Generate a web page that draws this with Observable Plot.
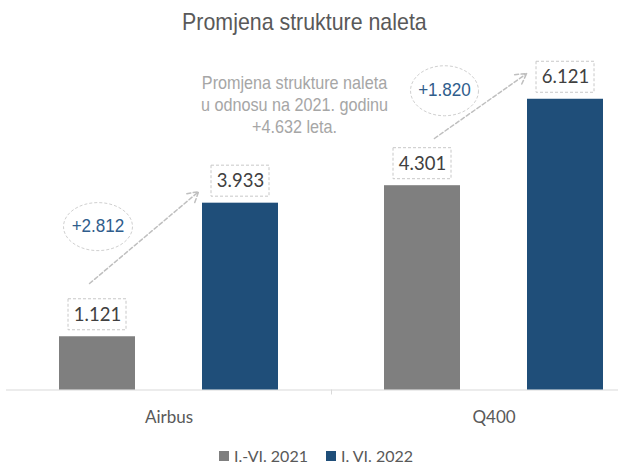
<!DOCTYPE html>
<html><head><meta charset="utf-8">
<script src="https://cdn.jsdelivr.net/npm/d3@7"></script>
<script src="https://cdn.jsdelivr.net/npm/@observablehq/plot@0.6"></script>
<style>
body{margin:0;background:#fff;}
#wrap{width:618px;height:466px;overflow:hidden;position:relative;}
#title{width:618px;height:44px;line-height:44px;text-align:center;font-family:"Liberation Sans",Arial,sans-serif;font-size:24px;color:#595959;padding-right:9px;box-sizing:border-box;}
#title span{display:inline-block;transform:scaleX(0.89);}
#chart{height:392px;}
#chart svg{max-width:none !important;display:block;}
#legend{width:618px;height:30px;display:flex;justify-content:center;align-items:center;font-family:Lato,sans-serif;font-size:16px;line-height:18px;color:#595959;padding-left:14px;padding-top:10px;box-sizing:border-box;}
.item{display:flex;align-items:center;margin:0 9px;}
.sw{width:10px;height:10px;margin-right:5px;}
</style></head>
<body><div id="wrap"><div id="title"><span></span></div><div id="chart"></div><div id="legend"></div></div>
<script>
// ---- data ----
const title = "Promjena strukture naleta";
const aircraft = ["Airbus", "Q400"];
const periods = ["I.-VI. 2021", "I. VI. 2022"];
const flights2021 = [1121, 4301];
const flights2022 = [3933, 6121];
const changeLabels = ["+2.812", "+1.820"];
const noteLines = ["Promjena strukture naleta", "u odnosu na 2021. godinu", "+4.632 leta."];
const colors = ["#7f7f7f", "#1f4e79"];

// ---- annotation placement (in y units / px offsets) ----
const ellipseAt = [{y: 3440, dx: 0.5, rx: 34.5, ry: 24}, {y: 6300, dx: 22, rx: 34, ry: 25}];
const arrowAt = [
  {from: 2383, to: 4918, insetStart: -10.4, insetEnd: 54.7},
  {from: 5118, to: 7238, insetStart: 14.6, insetEnd: 47.6}
];
const noteAt = {y: 6027, dx: 54};

const bars = aircraft.flatMap((a, i) => [
  {aircraft: a, period: periods[0], value: flights2021[i]},
  {aircraft: a, period: periods[1], value: flights2022[i]}
]);
const fmt = d3.formatLocale({decimal: ",", thousands: ".", grouping: [3], currency: ["", ""]}).format(",d");
const arial = "Liberation Sans";

function ellipse(rx, ry) {
  const k = 0.5523;
  return {draw(ctx) {
    ctx.moveTo(rx, 0);
    ctx.bezierCurveTo(rx, ry * k, rx * k, ry, 0, ry);
    ctx.bezierCurveTo(-rx * k, ry, -rx, ry * k, -rx, 0);
    ctx.bezierCurveTo(-rx, -ry * k, -rx * k, -ry, 0, -ry);
    ctx.bezierCurveTo(rx * k, -ry, rx, -ry * k, rx, 0);
    ctx.closePath();
  }};
}

const annMarks = [];
aircraft.forEach((a, i) => {
  const row = [{aircraft: a, label: changeLabels[i], ey: ellipseAt[i].y, from: arrowAt[i].from, to: arrowAt[i].to}];
  annMarks.push(Plot.arrow(row, {
    fx: "aircraft", x1: () => periods[0], x2: () => periods[1], y1: "from", y2: "to",
    insetStart: arrowAt[i].insetStart, insetEnd: arrowAt[i].insetEnd,
    stroke: "#bfbfbf", strokeWidth: 1.5, strokeDasharray: "4,2.5", headLength: 12
  }));
  annMarks.push(Plot.dot(row, {
    fx: "aircraft", x: () => periods[0], y: "ey", dx: ellipseAt[i].dx,
    symbol: ellipse(ellipseAt[i].rx, ellipseAt[i].ry), r: 5,
    fill: "white", stroke: "#d0d0d0", strokeWidth: 1, strokeDasharray: "3,2"
  }));
  annMarks.push(Plot.text(row, {
    fx: "aircraft", x: () => periods[0], y: "ey", dx: ellipseAt[i].dx, dy: -1,
    text: "label", fontSize: 19, fill: "#2f5d8c", fontFamily: arial
  }));
});

const chart = Plot.plot({
  width: 656, height: 392,
  marginLeft: 5, marginRight: 0, marginTop: 13, marginBottom: 46.5,
  fx: {domain: aircraft, padding: 0, axis: null, label: null},
  x: {domain: periods, paddingInner: 0.472, paddingOuter: 0.366, axis: null},
  y: {domain: [0, 7000], axis: null},
  color: {type: "ordinal", domain: periods, range: colors},
  style: {fontFamily: "Lato, sans-serif", background: "transparent", overflow: "visible", maxWidth: "none"},
  marks: [
    Plot.ruleY([0], {stroke: "#d9d9d9", strokeWidth: 1.2}),
    Plot.ruleX([{aircraft: "Q400"}], {fx: "aircraft", x: () => periods[0], y1: 0, y2: -105, dx: -91, stroke: "#d9d9d9"}),
    Plot.barY(bars, {fx: "aircraft", x: "period", y: "value", fill: "period"}),
    Plot.barY(bars, {
      fx: "aircraft", x: "period", y1: "value", y2: "value",
      insetLeft: 9, insetRight: 9, insetTop: -15.5, insetBottom: -15.5, dy: -22,
      fill: "white", stroke: "#c8c8c8", strokeDasharray: "3,2"
    }),
    Plot.text(bars, {fx: "aircraft", x: "period", y: "value", dy: -22, text: d => fmt(d.value), fontSize: 18.5, fill: "#404040"}),
    ...annMarks,
    Plot.text([{aircraft: "Airbus"}], {
      fx: "aircraft", x: () => periods[1], y: () => noteAt.y, dx: noteAt.dx,
      text: () => noteLines.join("\n"), fontSize: 18, lineHeight: 1.22,
      fill: "#a6a6a6", fontFamily: arial
    }),
    Plot.text(aircraft.map(a => ({aircraft: a})), {
      fx: "aircraft", text: "aircraft", frameAnchor: "bottom", lineAnchor: "top", dy: 21,
      fontSize: 17, fill: "#595959"
    })
  ]
});
chart.style.maxWidth = "none";

document.querySelector("#title span").textContent = title;
document.getElementById("chart").appendChild(chart);

// horizontally condense the Arial-style texts around their own centre
chart.querySelectorAll(`g[font-family="${arial}"] text`).forEach(t => {
  const b = t.getBBox();
  const cx = b.x + b.width / 2;
  const tr = t.getAttribute("transform") || "";
  t.setAttribute("transform", `${tr} translate(${cx},0) scale(0.9,1) translate(${-cx},0)`);
});

const legend = document.getElementById("legend");
periods.forEach((p, i) => {
  const it = document.createElement("div"); it.className = "item";
  const sw = document.createElement("div"); sw.className = "sw"; sw.style.background = colors[i];
  const tx = document.createElement("span"); tx.textContent = p;
  it.appendChild(sw); it.appendChild(tx); legend.appendChild(it);
});
</script>
</body></html>
